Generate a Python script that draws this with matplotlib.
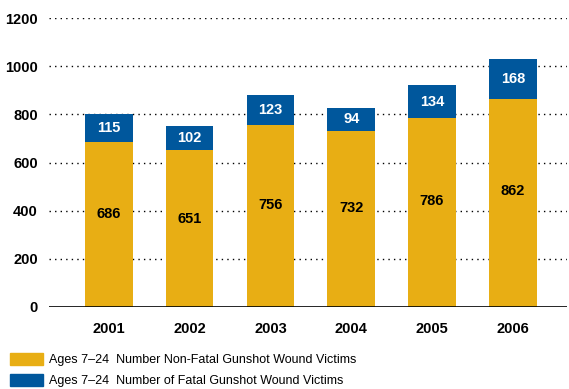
import numpy as np
import matplotlib.pyplot as plt
from matplotlib.patches import Patch

plt.rcParams['font.family'] = ['Liberation Sans', 'DejaVu Sans']

years = ['2001', '2002', '2003', '2004', '2005', '2006']
non_fatal = [686, 651, 756, 732, 786, 862]
fatal = [115, 102, 123, 94, 134, 168]
yticks = [0, 200, 400, 600, 800, 1000, 1200]

GOLD = '#E8AE14'
BLUE = '#00579C'

fig = plt.figure(figsize=(5.69, 3.89), dpi=100)
W, H = 569, 389
ax = fig.add_axes([49 / W, (H - 307) / H, (567 - 49) / W, (307 - 18) / H])

x = np.arange(len(years))
width = 0.59
ax.bar(x, non_fatal, width, color=GOLD, zorder=2)
ax.bar(x, fatal, width, bottom=non_fatal, color=BLUE, zorder=2)

for xi, nf, f in zip(x, non_fatal, fatal):
    ax.text(xi, nf * 0.56, str(nf), ha='center', va='center',
            fontsize=10.5, fontweight='bold', color='black', zorder=3)
    ax.text(xi, nf + f / 2, str(f), ha='center', va='center',
            fontsize=10.5, fontweight='bold', color='white', zorder=3)

# dotted guides behind the bars, solid baseline at zero
for yv in yticks[1:]:
    ax.axhline(yv, color='black', linestyle=(0, (1, 3)), linewidth=1.0, zorder=1)
ax.axhline(0, color='black', linewidth=1.2, zorder=3)

ax.set_xlim(-0.74, len(years) - 1 + 0.67)
ax.set_ylim(0, 1200)
ax.set_yticks(yticks)
ax.set_yticklabels([str(v) for v in yticks], fontsize=10.5, fontweight='bold')
ax.set_xticks(x)
ax.set_xticklabels(years, fontsize=10.5, fontweight='bold')
ax.tick_params(axis='both', length=0)
ax.tick_params(axis='y', pad=8)
ax.tick_params(axis='x', pad=11)
for s in ax.spines.values():
    s.set_visible(False)

handles = [Patch(color=GOLD), Patch(color=BLUE)]
labels = ['Ages 7\u201324  Number Non-Fatal Gunshot Wound Victims',
          'Ages 7\u201324  Number of Fatal Gunshot Wound Victims']
fig.legend(handles, labels, loc='upper left', bbox_to_anchor=(10 / W, 1 - 353 / H),
           frameon=False, fontsize=9, borderpad=0, borderaxespad=0,
           handlelength=2.6, handleheight=1.05, handletextpad=0.5,
           labelspacing=0.65)

fig.savefig('out.png', dpi=100)
